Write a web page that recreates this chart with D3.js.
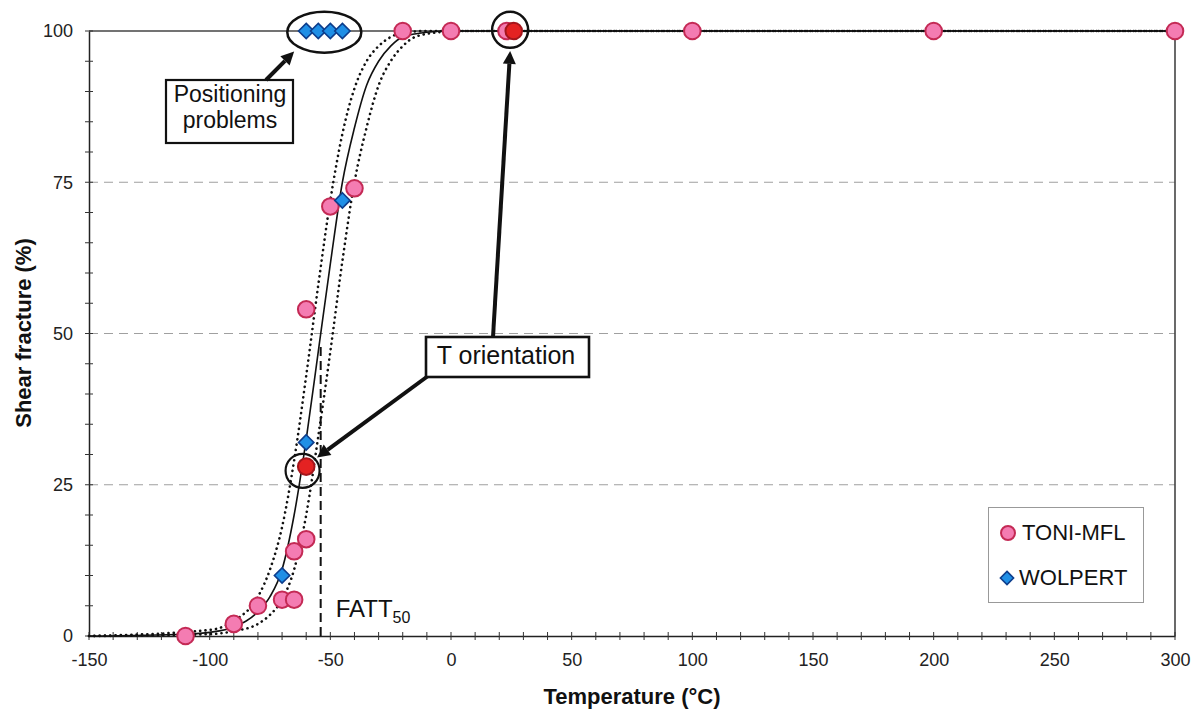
<!DOCTYPE html>
<html><head><meta charset="utf-8">
<script src="https://cdn.jsdelivr.net/npm/d3@7"></script>
<style>body{margin:0;background:#fff}svg{display:block}text{font-family:"Liberation Sans",Arial,sans-serif}</style>
</head><body><svg id="c" width="1192" height="710"></svg>
<script>
// ---- data ----
const toniT  = [-110,-90,-80,-70,-65,-65,-60,-60,-50,-40,-20,0,23,100,200,300];
const toniSF = [0,2,5,6,6,14,16,54,71,74,100,100,100,100,100,100];
const tOrientT  = [-60,26];
const tOrientSF = [28,100];
const wolpT  = [-70,-60,-45,-60,-55,-50,-45];
const wolpSF = [10,32,72,100,100,100,100];
const fitT   = [-150,-110,-100,-90,-80,-75,-70,-65,-60,-55,-50,-45,-40,-35,-30,-25,-20,-10,0,300];
const fitSF  = [0,0.3,0.6,1.5,4,6.5,11,20,32.5,47,61.5,75,84,91,95,97.5,99,99.8,100,100];
const loT    = [-150,-100,-90,-80,-75,-70,-65,-60,-55,-50,-45,-40,-35,-30,-25,-20,-10,300];
const loSF   = [0,1,2.5,6.5,11,18,29,43,58,72,83,90.5,95,97.5,99,99.7,100,100];
const hiT    = [-150,-100,-90,-80,-75,-70,-65,-60,-55,-50,-45,-40,-35,-30,-25,-20,-15,-5,0,300];
const hiSF   = [0,0.3,0.8,2,3.5,6,11,20,33,47,62,75,84,91,95,97.5,99,99.8,100,100];
const fatt50 = -54;
const xTicks = [-150,-100,-50,0,50,100,150,200,250,300];
const yTicks = [0,25,50,75,100];
const seriesNames = ["TONI-MFL","WOLPERT"];

// ---- layout ----
const svg = d3.select("#c");
const x = d3.scaleLinear().domain([-150,300]).range([89,1175]);
const y = d3.scaleLinear().domain([0,100]).range([636,31]);

// grid
svg.append("g").selectAll("line").data([25,50,75]).join("line")
  .attr("x1",x(-150)).attr("x2",x(300)).attr("y1",d=>y(d)).attr("y2",d=>y(d))
  .attr("stroke","#a0a0a0").attr("stroke-width",1.2).attr("stroke-dasharray","9,6");
// frame top/right
svg.append("line").attr("x1",x(-150)).attr("x2",x(300)).attr("y1",y(100)).attr("y2",y(100)).attr("stroke","#444").attr("stroke-width",1.3);
svg.append("line").attr("x1",x(300)).attr("x2",x(300)).attr("y1",y(100)).attr("y2",y(0)).attr("stroke","#444").attr("stroke-width",1.6);

// axes
const xAxis = svg.append("g").attr("transform",`translate(0,${y(0)})`)
  .call(d3.axisBottom(x).tickValues(xTicks).tickSize(0).tickPadding(17).tickFormat(d=>String(d)));
const yAxis = svg.append("g").attr("transform",`translate(${x(-150)},0)`)
  .call(d3.axisLeft(y).tickValues(yTicks).tickSize(0).tickPadding(16).tickFormat(d=>String(d)));
[xAxis,yAxis].forEach(g=>{
  g.select(".domain").attr("stroke","#222").attr("stroke-width",1.5);
  g.selectAll("text").attr("font-size",18).attr("fill","#222");
});
// minor ticks
svg.append("g").selectAll("line").data(d3.range(-150,301,10)).join("line")
  .attr("x1",d=>x(d)).attr("x2",d=>x(d)).attr("y1",y(0)-4).attr("y2",y(0)+4)
  .attr("stroke","#333").attr("stroke-width",1);
svg.append("g").selectAll("line").data(d3.range(0,101,5)).join("line")
  .attr("x1",x(-150)-4).attr("x2",x(-150)+4).attr("y1",d=>y(d)).attr("y2",d=>y(d))
  .attr("stroke","#333").attr("stroke-width",1);

// axis titles
svg.append("text").attr("x",632).attr("y",704).attr("text-anchor","middle")
  .attr("font-size",22).attr("font-weight","bold").attr("fill","#111").text("Temperature (°C)");
svg.append("text").attr("transform","translate(31,333) rotate(-90)").attr("text-anchor","middle")
  .attr("font-size",22).attr("font-weight","bold").attr("fill","#111").text("Shear fracture (%)");

// curves
const line = d3.line().x(d=>x(d[0])).y(d=>y(d[1])).curve(d3.curveMonotoneX);
const toPts = (a,b)=>a.map((t,i)=>[t,b[i]]);
[[loT,loSF],[hiT,hiSF]].forEach(([a,b])=>{
  svg.append("path").attr("d",line(toPts(a,b))).attr("fill","none").attr("stroke","#111")
    .attr("stroke-width",2.6).attr("stroke-linecap","round").attr("stroke-dasharray","0.1,5.2");
});
svg.append("path").attr("d",line(toPts(fitT,fitSF))).attr("fill","none").attr("stroke","#111").attr("stroke-width",1.6);

// FATT50
svg.append("line").attr("x1",x(fatt50)).attr("x2",x(fatt50)).attr("y1",y(0)).attr("y2",y(48))
  .attr("stroke","#111").attr("stroke-width",2).attr("stroke-dasharray","9,5");
const ft = svg.append("text").attr("x",x(fatt50)+15).attr("y",617).attr("font-size",24).attr("fill","#111");
ft.append("tspan").text("FATT");
ft.append("tspan").attr("font-size",16).attr("dy",6).text("50");

// markers
const circ = (g,cx,cy,fill,stroke)=>g.append("circle").attr("cx",cx).attr("cy",cy).attr("r",8.3)
  .attr("fill",fill).attr("stroke",stroke).attr("stroke-width",2);
const diamond = d3.symbol().type(d3.symbolDiamond2).size(150);
const pink="#f47cb2", pinkS="#c42a55", red="#e42222", redS="#a5161c", blue="#1f8fe6", blueS="#0d3d8c";
const gm = svg.append("g");
toPts(toniT,toniSF).forEach(p=>circ(gm,x(p[0]),y(p[1]),pink,pinkS));
toPts(tOrientT,tOrientSF).forEach(p=>circ(gm,x(p[0]),y(p[1]),red,redS));
gm.selectAll("path.w").data(toPts(wolpT,wolpSF)).join("path").attr("class","w")
  .attr("d",diamond).attr("transform",d=>`translate(${x(d[0])},${y(d[1])})`)
  .attr("fill",blue).attr("stroke",blueS).attr("stroke-width",1.6);

// annotations
const ann = svg.append("g").attr("fill","none").attr("stroke","#111");
ann.append("ellipse").attr("cx",x(-52.5)).attr("cy",y(99.8)).attr("rx",37).attr("ry",20.5).attr("stroke-width",2.5);
ann.append("circle").attr("cx",x(-61.5)).attr("cy",y(27.3)).attr("r",17).attr("stroke-width",2.2);
ann.append("circle").attr("cx",x(24.5)).attr("cy",y(100.2)).attr("r",18).attr("stroke-width",2.5);

function arrow(x1,y1,x2,y2,w){
  const ang=Math.atan2(y2-y1,x2-x1), L=13, W=6.5;
  const bx=x2-L*Math.cos(ang), by=y2-L*Math.sin(ang);
  svg.append("line").attr("x1",x1).attr("y1",y1).attr("x2",bx).attr("y2",by).attr("stroke","#111").attr("stroke-width",w);
  svg.append("path").attr("d",`M${x2},${y2}L${bx+W*Math.sin(ang)},${by-W*Math.cos(ang)}L${bx-W*Math.sin(ang)},${by+W*Math.cos(ang)}Z`).attr("fill","#111");
}
// positioning problems box
svg.append("rect").attr("x",166).attr("y",80).attr("width",127).attr("height",63).attr("fill","#fff").attr("stroke","#111").attr("stroke-width",2.2);
svg.append("text").attr("x",230).attr("y",102).attr("text-anchor","middle").attr("font-size",23).attr("fill","#111").text("Positioning");
svg.append("text").attr("x",230).attr("y",128).attr("text-anchor","middle").attr("font-size",23).attr("fill","#111").text("problems");
arrow(266,80,x(-65),y(96.6),4);
// T orientation
arrow(493,337,x(24.5),y(96.7),4);
arrow(428,376,x(-55.5),y(29.5),4);
svg.append("rect").attr("x",426).attr("y",337).attr("width",163).attr("height",40).attr("fill","#fff").attr("stroke","#111").attr("stroke-width",2.6);
svg.append("text").attr("x",506).attr("y",364).attr("text-anchor","middle").attr("font-size",25).attr("fill","#111").text("T orientation");

// legend
const lg = svg.append("g");
lg.append("rect").attr("x",988.5).attr("y",507.5).attr("width",155).attr("height",95).attr("fill","#fff").attr("stroke","#999").attr("stroke-width",1);
circ(lg,1008,533,pink,pinkS).attr("r",7);
lg.append("path").attr("d",d3.symbol().type(d3.symbolDiamond2).size(110)).attr("transform","translate(1007,578)")
  .attr("fill",blue).attr("stroke",blueS).attr("stroke-width",1.6);
lg.append("text").attr("x",1022).attr("y",540).attr("font-size",22).attr("fill","#111").text(seriesNames[0]);
lg.append("text").attr("x",1019).attr("y",585).attr("font-size",22).attr("fill","#111").text(seriesNames[1]);
</script></body></html>
